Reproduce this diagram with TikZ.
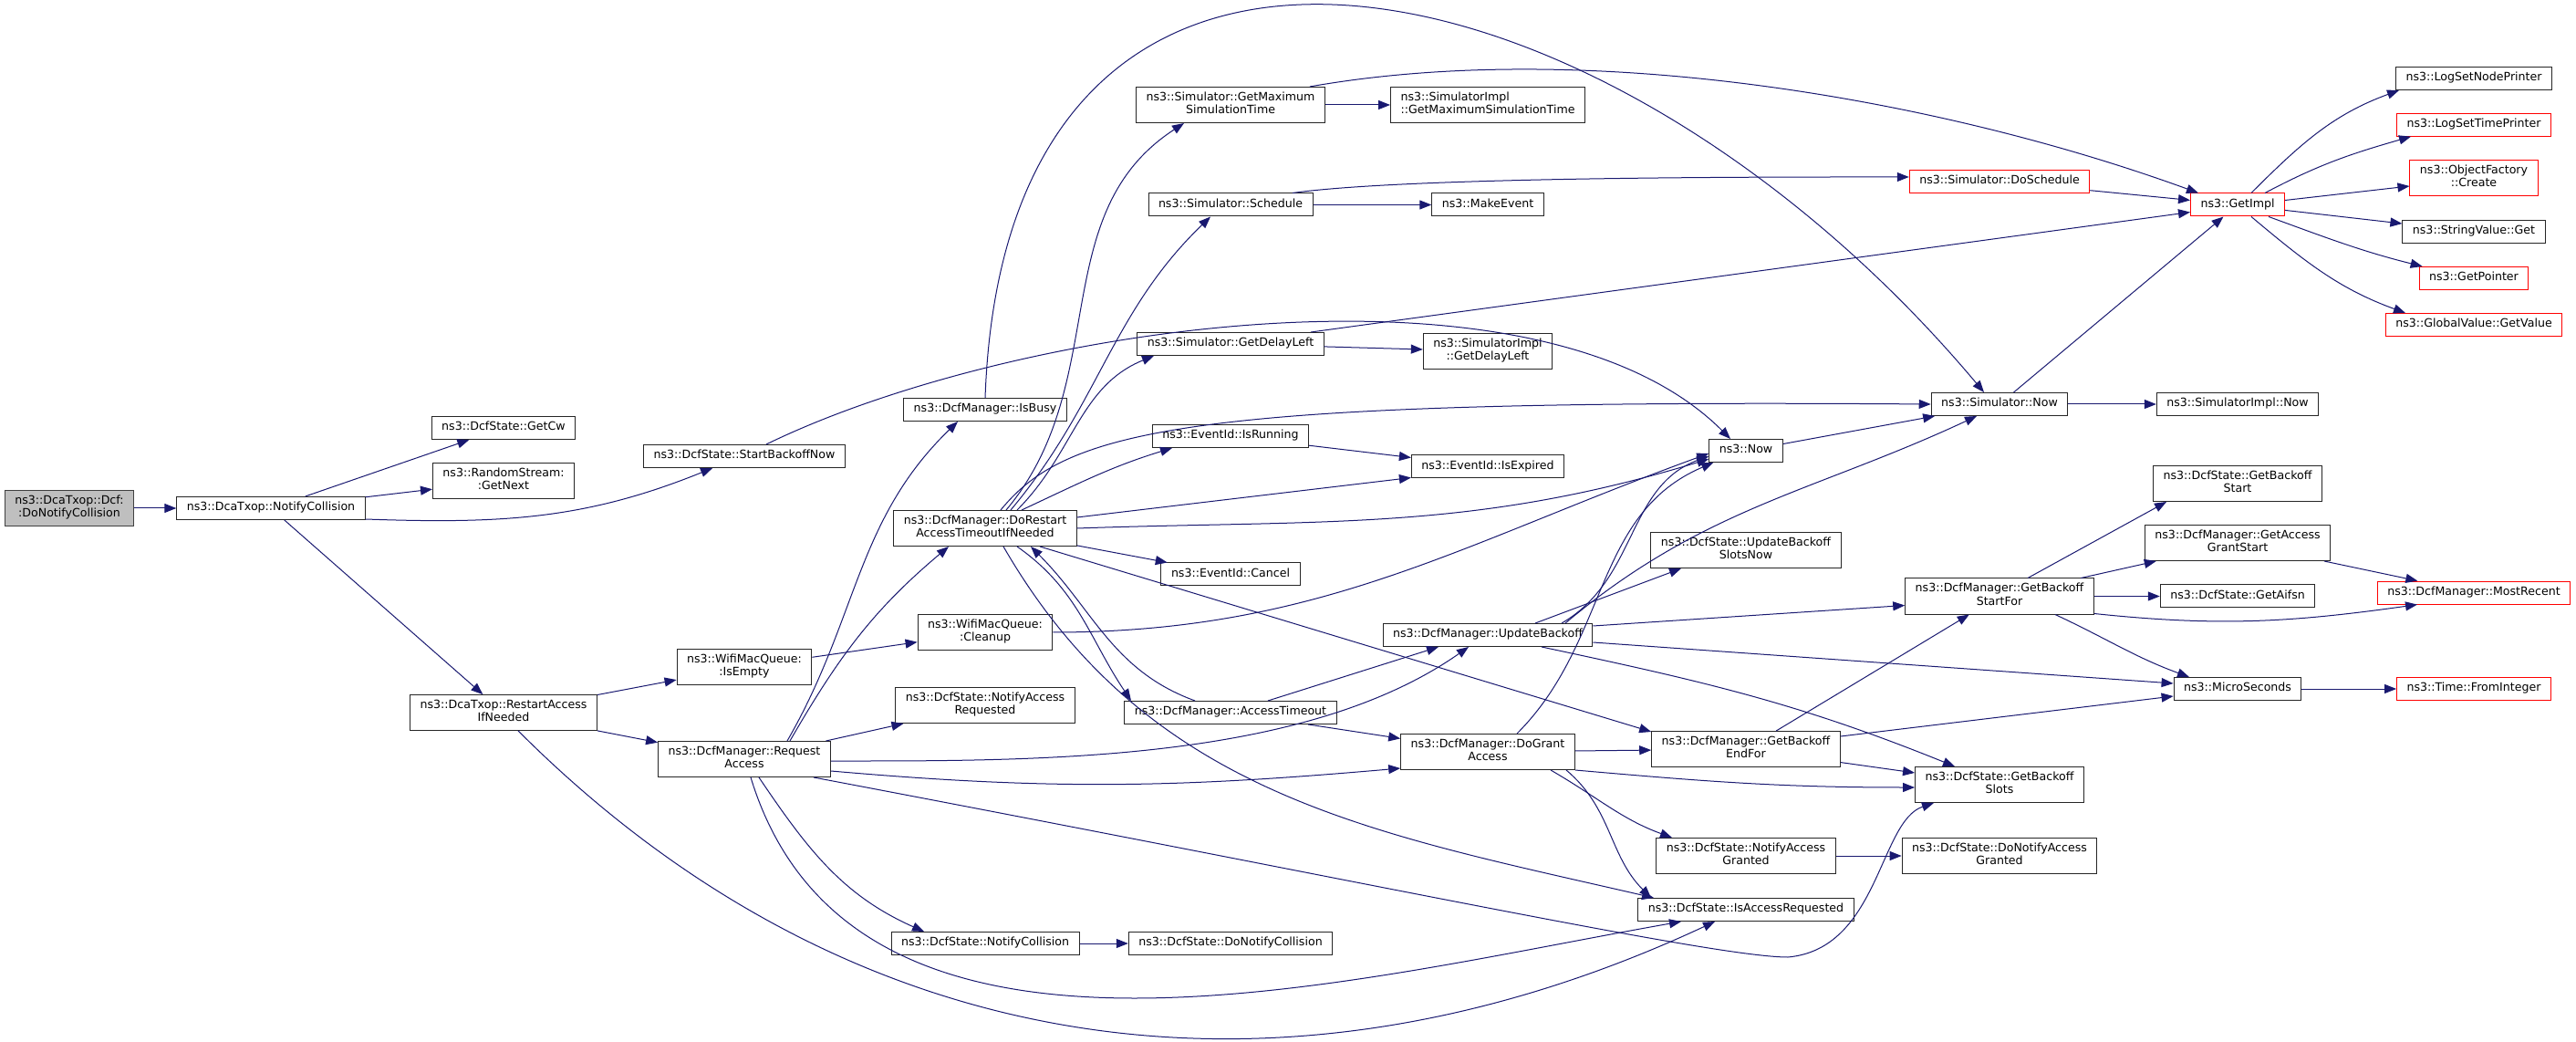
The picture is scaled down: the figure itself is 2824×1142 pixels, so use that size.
\documentclass[tikz,border=0pt]{standalone}
\usepackage{fontspec}
\setmainfont{DejaVu Sans}
\usetikzlibrary{positioning,arrows.meta}
\tikzset{>={Triangle[length=3.25pt,width=2.5pt]}}
\definecolor{edgeblue}{HTML}{191970}
\definecolor{rootgray}{HTML}{BFBFBF}

\begin{document}
\begin{tikzpicture}[->,x=0.25pt,y=0.25pt,line width=0.25pt,
                    every edge/.append style={draw=edgeblue}]
      \tikzstyle{fn}=[draw=black!85,fill=white,rectangle,align=center,inner xsep=2.75pt,inner ysep=1.275pt,
                      font=\fontsize{3.15}{3.7}\selectfont,
                      execute at begin node=\strut,execute at end node=\strut]
      \tikzstyle{cut}=[fn,draw=red]
      \tikzstyle{root}=[fn,fill=rootgray,draw=black!75]

      \useasboundingbox (0,0) rectangle (2824,-1142);

      \node[root] (root)       at (76,-557)    {ns3::DcaTxop::Dcf:\\:DoNotifyCollision};
      \node[fn]   (ncoll)      at (297,-557)   {ns3::DcaTxop::NotifyCollision};
      \node[fn]   (getcw)      at (552,-469)   {ns3::DcfState::GetCw};
      \node[fn]   (getnext)    at (552,-527)   {ns3::RandomStream:\\:GetNext};
      \node[fn]   (sbn)        at (816,-500)   {ns3::DcfState::StartBackoffNow};
      \node[fn]   (restart)    at (552,-781)   {ns3::DcaTxop::RestartAccess\\IfNeeded};
      \node[fn]   (isempty)    at (816,-731)   {ns3::WifiMacQueue:\\:IsEmpty};
      \node[fn]   (reqacc)     at (816,-832)   {ns3::DcfManager::Request\\Access};
      \node[fn]   (isbusy)     at (1080,-449)  {ns3::DcfManager::IsBusy};
      \node[fn]   (dorestart)  at (1080,-579)  {ns3::DcfManager::DoRestart\\AccessTimeoutIfNeeded};
      \node[fn]   (cleanup)    at (1080,-693)  {ns3::WifiMacQueue:\\:Cleanup};
      \node[fn]   (nar)        at (1080,-773)  {ns3::DcfState::NotifyAccess\\Requested};
      \node[fn]   (dsncoll)    at (1080,-1034) {ns3::DcfState::NotifyCollision};
      \node[fn]   (getmax)     at (1349,-115)  {ns3::Simulator::GetMaximum\\SimulationTime};
      \node[fn]   (sched)      at (1349,-224.5){ns3::Simulator::Schedule};
      \node[fn]   (delay)      at (1349,-377)  {ns3::Simulator::GetDelayLeft};
      \node[fn]   (isrun)      at (1349,-478)  {ns3::EventId::IsRunning};
      \node[fn]   (cancel)     at (1349,-629.5){ns3::EventId::Cancel};
      \node[fn]   (acctime)    at (1349,-781)  {ns3::DcfManager::AccessTimeout};
      \node[fn]   (dsdoncoll)  at (1349,-1034) {ns3::DcfState::DoNotifyCollision};
      \node[fn,align=left] (implmax) at (1631,-115) {ns3::SimulatorImpl\\::GetMaximumSimulationTime};
      \node[fn]   (mkevent)    at (1631,-224.5){ns3::MakeEvent};
      \node[fn]   (impldelay)  at (1631,-385)  {ns3::SimulatorImpl\\::GetDelayLeft};
      \node[fn]   (isexp)      at (1631,-511.5){ns3::EventId::IsExpired};
      \node[fn]   (updbo)      at (1631,-696)  {ns3::DcfManager::UpdateBackoff};
      \node[fn]   (grant)      at (1631,-824)  {ns3::DcfManager::DoGrant\\Access};
      \node[fn]   (now)        at (1914,-494)  {ns3::Now};
      \node[fn]   (slotsnow)   at (1914,-603)  {ns3::DcfState::UpdateBackoff\\SlotsNow};
      \node[fn]   (endfor)     at (1914,-821)  {ns3::DcfManager::GetBackoff\\EndFor};
      \node[fn]   (nag)        at (1914,-938)  {ns3::DcfState::NotifyAccess\\Granted};
      \node[fn]   (isreq)      at (1914,-997)  {ns3::DcfState::IsAccessRequested};
      \node[cut]  (dosched)    at (2192,-199)  {ns3::Simulator::DoSchedule};
      \node[fn]   (simnow)     at (2192,-443)  {ns3::Simulator::Now};
      \node[fn]   (startfor)   at (2192,-653.5){ns3::DcfManager::GetBackoff\\StartFor};
      \node[fn]   (slots)      at (2192,-860)  {ns3::DcfState::GetBackoff\\Slots};
      \node[fn]   (dnag)       at (2192,-938)  {ns3::DcfState::DoNotifyAccess\\Granted};
      \node[cut]  (getimpl)    at (2453,-224.5){ns3::GetImpl};
      \node[fn]   (implnow)    at (2453,-443)  {ns3::SimulatorImpl::Now};
      \node[fn]   (bostart)    at (2453,-530)  {ns3::DcfState::GetBackoff\\Start};
      \node[fn]   (grantstart) at (2453,-595)  {ns3::DcfManager::GetAccess\\GrantStart};
      \node[fn]   (aifsn)      at (2453,-653.5){ns3::DcfState::GetAifsn};
      \node[fn]   (micro)      at (2453,-755)  {ns3::MicroSeconds};
      \node[fn]   (nodepr)     at (2712,-86)   {ns3::LogSetNodePrinter};
      \node[cut]  (timepr)     at (2712,-136.7){ns3::LogSetTimePrinter};
      \node[cut]  (create)     at (2712,-195)  {ns3::ObjectFactory\\::Create};
      \node[fn]   (strget)     at (2712,-254)  {ns3::StringValue::Get};
      \node[cut]  (getptr)     at (2712,-305)  {ns3::GetPointer};
      \node[cut]  (globval)    at (2712,-356)  {ns3::GlobalValue::GetValue};
      \node[cut]  (recent)     at (2712,-649.6){ns3::DcfManager::MostRecent};
      \node[cut]  (fromint)    at (2712,-755)  {ns3::Time::FromInteger};

      % left part
      \path (root)    edge (ncoll)
            (ncoll)   edge (getcw)
                      edge (getnext)
                      edge (restart)
            ([shift={(0,1)}]ncoll.south east) edge[out=-2,in=202] ([shift={(76,0)}]sbn.south west)
            ([shift={(24,0)}]sbn.north) edge[out=26,in=135,looseness=0.72] ([shift={(-17,0)}]now.north)
            (restart) edge (isempty)
                      edge (reqacc)
            ([shift={(16,0)}]restart.south) edge[out=-45,in=-155] ([shift={(-34,0)}]isreq.south)
            (isempty) edge (cleanup);

      % request access
      \path ([shift={(47,0)}]reqacc.north) edge[out=60,in=-136] ([shift={(-30,0)}]isbusy.south)
            ([shift={(50,0)}]reqacc.north) edge[out=60,in=-140] ([shift={(-40,0)}]dorestart.south)
            (reqacc) edge (nar)
            ([shift={(0,-2)}]reqacc.east)  edge[out=0,in=-145,looseness=0.8] ([shift={(-21,0)}]updbo.south)
            ([shift={(0,-13)}]reqacc.east) edge[out=-5,in=185] ([shift={(0,-18)}]grant.west)
            ([shift={(16,0)}]reqacc.south) edge[out=-56,in=156] ([shift={(-67,0)}]dsncoll.north)
            ([shift={(7,0)}]reqacc.south)  edge[out=-73,in=190,looseness=0.95] ([shift={(-71,0)}]isreq.south);
      \draw[edgeblue] ([shift={(76,0)}]reqacc.south) .. controls (1500,-967) and (1880,-1049) .. (1960,-1049)
                      .. controls (2060,-1040) and (2060,-900) .. ([shift={(-72,0)}]slots.south);

      % restart access timeout
      \path ([shift={(23,0)}]dorestart.north) edge[out=50,in=-147] ([shift={(-51,0)}]getmax.south)
            ([shift={(28,0)}]dorestart.north) edge[out=50,in=-136] ([shift={(-22,0)}]sched.south)
            ([shift={(35,0)}]dorestart.north) edge[out=45,in=-158] ([shift={(-84,0)}]delay.south)
            ([shift={(40,0)}]dorestart.north) edge[out=25,in=197] ([shift={(-64,0)}]isrun.south)
            ([shift={(0,12)}]dorestart.east)  edge ([shift={(0,-12)}]isexp.west)
            (dorestart.east) edge[out=2,in=197] ([shift={(0,-9)}]now.west)
            (dorestart) edge (cancel)
            ([shift={(35,0)}]dorestart.south) edge[out=-35,in=124] ([shift={(-109,0)}]acctime.north)
            ([shift={(60,0)}]dorestart.south) edge ([shift={(0,19)}]endfor.west)
            ([shift={(20,0)}]dorestart.south) edge[out=-60,in=167] ([shift={(-101,0)}]isreq.north)
            ([shift={(-39,0)}]acctime.north) edge[out=160,in=-45] ([shift={(50,0)}]dorestart.south)
            ([shift={(41,0)}]acctime.north)  edge ([shift={(-54,0)}]updbo.south)
            (acctime) edge (grant)
            (isbusy.north) edge[out=88,in=130,looseness=1.5] ([shift={(-17,0)}]simnow.north)
            (cleanup.east) edge[out=0,in=200] ([shift={(0,-3)}]now.west);
      \draw[edgeblue] ([shift={(17,0)}]dorestart.north) .. controls (1170,-470) and (1300,-437) .. (simnow.west);

      % simulator
      \path (getmax) edge (implmax)
            ([shift={(-17,0)}]getmax.north east) edge[out=10,in=160,looseness=0.8] ([shift={(-43,0)}]getimpl.north)
            (sched)  edge (mkevent)
            ([shift={(68,0)}]sched.north) edge[out=8,in=180,looseness=0.5] ([shift={(0,5)}]dosched.west)
            (delay)  edge (impldelay)
            ([shift={(88,0)}]delay.north) edge ([shift={(0,-8)}]getimpl.west)
            (isrun)  edge (isexp)
            (dosched) edge (getimpl)
            (simnow) edge (getimpl)
                     edge (implnow)
            (now)    edge (simnow);

      % backoff
      \path ([shift={(81,0)}]updbo.north) edge[out=30,in=200] ([shift={(0,-6)}]now.west)
            ([shift={(85,0)}]updbo.north) edge[out=40,in=205] ([shift={(-25,0)}]simnow.south)
            ([shift={(52,0)}]updbo.north) edge ([shift={(-71,0)}]slotsnow.south)
            ([shift={(0,10)}]updbo.east)  edge ([shift={(0,-10)}]startfor.west)
            ([shift={(0,-8)}]updbo.east)  edge ([shift={(0,6)}]micro.west)
            ([shift={(59,0)}]updbo.south) edge[out=-12,in=158] ([shift={(-49,0)}]slots.north)
            ([shift={(32,0)}]grant.north) edge[out=45,in=203] ([shift={(5,0)}]now.south west)
            (grant) edge (endfor)
            ([shift={(0,-20)}]grant.east) edge[out=-5,in=180] ([shift={(0,-3)}]slots.west)
            ([shift={(69,0)}]grant.south) edge[out=-30,in=160] ([shift={(-81,0)}]nag.north)
            ([shift={(86,0)}]grant.south) edge[out=-40,in=135] ([shift={(-104,0)}]isreq.north)
            (endfor) edge (startfor)
                     edge (slots)
            ([shift={(0,14)}]endfor.east) edge ([shift={(0,-8)}]micro.west)
            (nag)     edge (dnag)
            (dsncoll) edge (dsdoncoll)
            ([shift={(31,0)}]startfor.north) edge ([shift={(-78,0)}]bostart.south)
            (startfor) edge (grantstart)
                       edge (aifsn)
            ([shift={(0,-19)}]startfor.east) edge[out=-6,in=188] ([shift={(-62,0)}]recent.south)
            ([shift={(61,0)}]startfor.south) edge[out=-25,in=160] ([shift={(-53,0)}]micro.north)
            (grantstart) edge (recent)
            (micro) edge (fromint);

      % getimpl
      \path ([shift={(15,0)}]getimpl.north) edge[out=45,in=200] ([shift={(-82,0)}]nodepr.south)
            ([shift={(30,0)}]getimpl.north) edge[out=28,in=196] ([shift={(-69,0)}]timepr.south)
            ([shift={(0,5)}]getimpl.east)   edge ([shift={(0,-9)}]create.west)
            (getimpl) edge (strget)
            ([shift={(34,0)}]getimpl.south) edge[out=-20,in=166] ([shift={(4,0)}]getptr.north west)
            ([shift={(15,0)}]getimpl.south) edge[out=-40,in=160] ([shift={(-75,0)}]globval.north);
\end{tikzpicture}
\end{document}
